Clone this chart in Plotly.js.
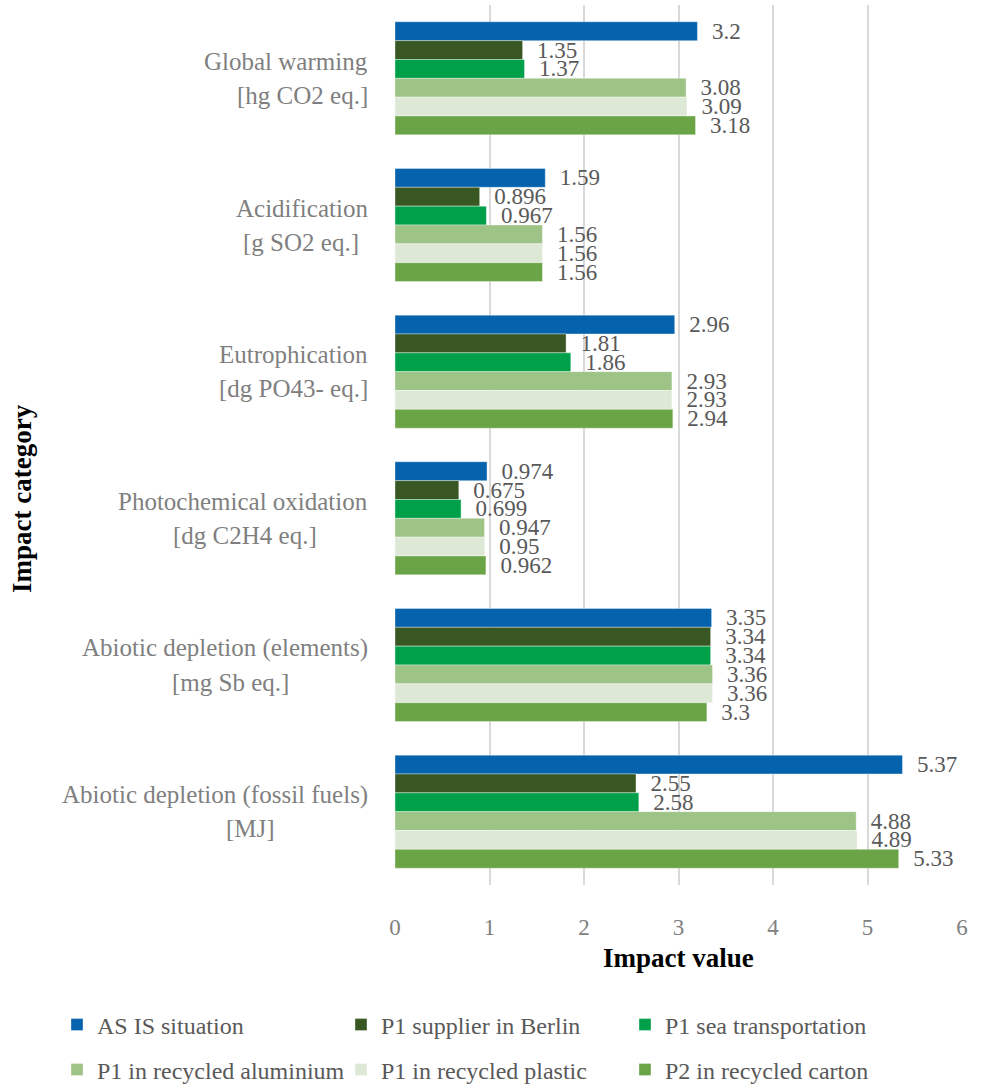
<!DOCTYPE html>
<html>
<head>
<meta charset="utf-8">
<script src="https://cdn.plot.ly/plotly-3.0.1.min.js"></script>
<style>
  html, body { margin: 0; padding: 0; background: #ffffff; }
  #chart { width: 983px; height: 1087px; }
</style>
</head>
<body>
<div id="chart"></div>
<script>
// Impact categories (top to bottom), each with a name line and a unit line
const categories = [
  'Global warming',
  'Acidification',
  'Eutrophication',
  'Photochemical oxidation',
  'Abiotic depletion (elements)',
  'Abiotic depletion (fossil fuels)'
];
const units = [
  '[hg CO2 eq.]',
  '[g SO2 eq.]',
  '[dg PO43- eq.]',
  '[dg C2H4 eq.]',
  '[mg Sb eq.]',
  '[MJ]'
];

// Scenario names
const seriesNames = [
  'AS IS situation',
  'P1 supplier in Berlin',
  'P1 sea transportation',
  'P1 in recycled aluminium',
  'P1 in recycled plastic',
  'P2 in recycled carton'
];

// Impact values per scenario, in category order
const asIs        = [3.2,  1.59,  2.96, 0.974, 3.35, 5.37];
const berlin      = [1.35, 0.896, 1.81, 0.675, 3.34, 2.55];
const seaTransp   = [1.37, 0.967, 1.86, 0.699, 3.34, 2.58];
const aluminium   = [3.08, 1.56,  2.93, 0.947, 3.36, 4.88];
const plastic     = [3.09, 1.56,  2.93, 0.95,  3.36, 4.89];
const carton      = [3.18, 1.56,  2.94, 0.962, 3.3,  5.33];

const xTicks = [0, 1, 2, 3, 4, 5, 6];

// Styling
const colors = ['#0563AE', '#385723', '#00A04A', '#9DC386', '#DDE8D6', '#6AA446'];
const seriesValues = [asIs, berlin, seaTransp, aluminium, plastic, carton];
const FONT = 'Liberation Serif, Times New Roman, serif';
const NB = '\u00a0\u00a0';

const traces = seriesValues.map((vals, i) => ({
  type: 'bar',
  orientation: 'h',
  name: seriesNames[i],
  y: categories,
  x: vals,
  marker: { color: colors[i], line: { color: 'rgba(255,255,255,0.6)', width: 0.6 } },
  text: vals.map(v => NB + String(v)),
  textposition: 'outside',
  textfont: { family: FONT, size: 23, color: '#595959' },
  constraintext: 'none',
  cliponaxis: false,
  hoverinfo: 'x+name',
  legend: i < 3 ? 'legend' : 'legend2'
}));

// Plot area geometry in pixels (used to place labels in paper units)
const W = 983, H = 1087;
const mL = 395, mR = 21, mT = 5, mB = 202;
const pw = W - mL - mR, ph = H - mT - mB;
const px = x => (x - mL) / pw;
const py = y => (H - mB - y) / ph;

// Horizontal centres for the unit line of each category label
const unitCentres = [302, 301, 293, 245, 230, 250];

const annotations = [];
categories.forEach((c, i) => {
  annotations.push({
    xref: 'paper', yref: 'y', x: px(370), y: c, xanchor: 'right', yanchor: 'middle',
    yshift: 17, text: c, showarrow: false,
    font: { family: FONT, size: 25, color: '#7f7f7f' }
  });
  annotations.push({
    xref: 'paper', yref: 'y', x: px(unitCentres[i]), y: c, xanchor: 'center', yanchor: 'middle',
    yshift: -17, text: units[i], showarrow: false,
    font: { family: FONT, size: 25, color: '#7f7f7f' }
  });
});
// Axis titles
annotations.push({
  xref: 'paper', yref: 'paper', x: px(678), y: py(958), xanchor: 'center', yanchor: 'middle',
  text: '<b>Impact value</b>', showarrow: false,
  font: { family: FONT, size: 27, color: '#000000' }
});
annotations.push({
  xref: 'paper', yref: 'paper', x: px(22), y: py(499), xanchor: 'center', yanchor: 'middle',
  text: '<b>Impact category</b>', textangle: -90, showarrow: false,
  font: { family: FONT, size: 27, color: '#000000' }
});

const legendCommon = {
  orientation: 'h',
  xanchor: 'left', yanchor: 'middle',
  x: px(57),
  font: { family: FONT, size: 24, color: '#595959' },
  entrywidth: 239, entrywidthmode: 'pixels',
  itemclick: false, itemdoubleclick: false,
  bgcolor: 'rgba(0,0,0,0)', borderwidth: 0,
  traceorder: 'normal'
};

const layout = {
  width: W, height: H,
  margin: { l: mL, r: mR, t: mT, b: mB, autoexpand: false },
  paper_bgcolor: '#ffffff',
  plot_bgcolor: '#ffffff',
  barmode: 'group',
  bargap: 0.229,
  bargroupgap: 0,
  showlegend: true,
  legend: Object.assign({}, legendCommon, { y: py(1025) }),
  legend2: Object.assign({}, legendCommon, { y: py(1070) }),
  xaxis: {
    range: [0, 6],
    tickvals: xTicks,
    ticktext: xTicks.map(String),
    showgrid: true, gridcolor: '#d9d9d9', gridwidth: 1.5,
    zeroline: false, showline: false, ticks: '',
    ticklabelstandoff: 26,
    tickfont: { family: FONT, size: 23, color: '#808080' },
    automargin: false,
    fixedrange: true
  },
  yaxis: {
    type: 'category',
    autorange: 'reversed',
    showticklabels: false,
    showgrid: false, zeroline: false, showline: false, ticks: '',
    automargin: false,
    fixedrange: true
  },
  annotations: annotations
};

Plotly.newPlot('chart', traces, layout, { displayModeBar: false });
</script>
</body>
</html>
